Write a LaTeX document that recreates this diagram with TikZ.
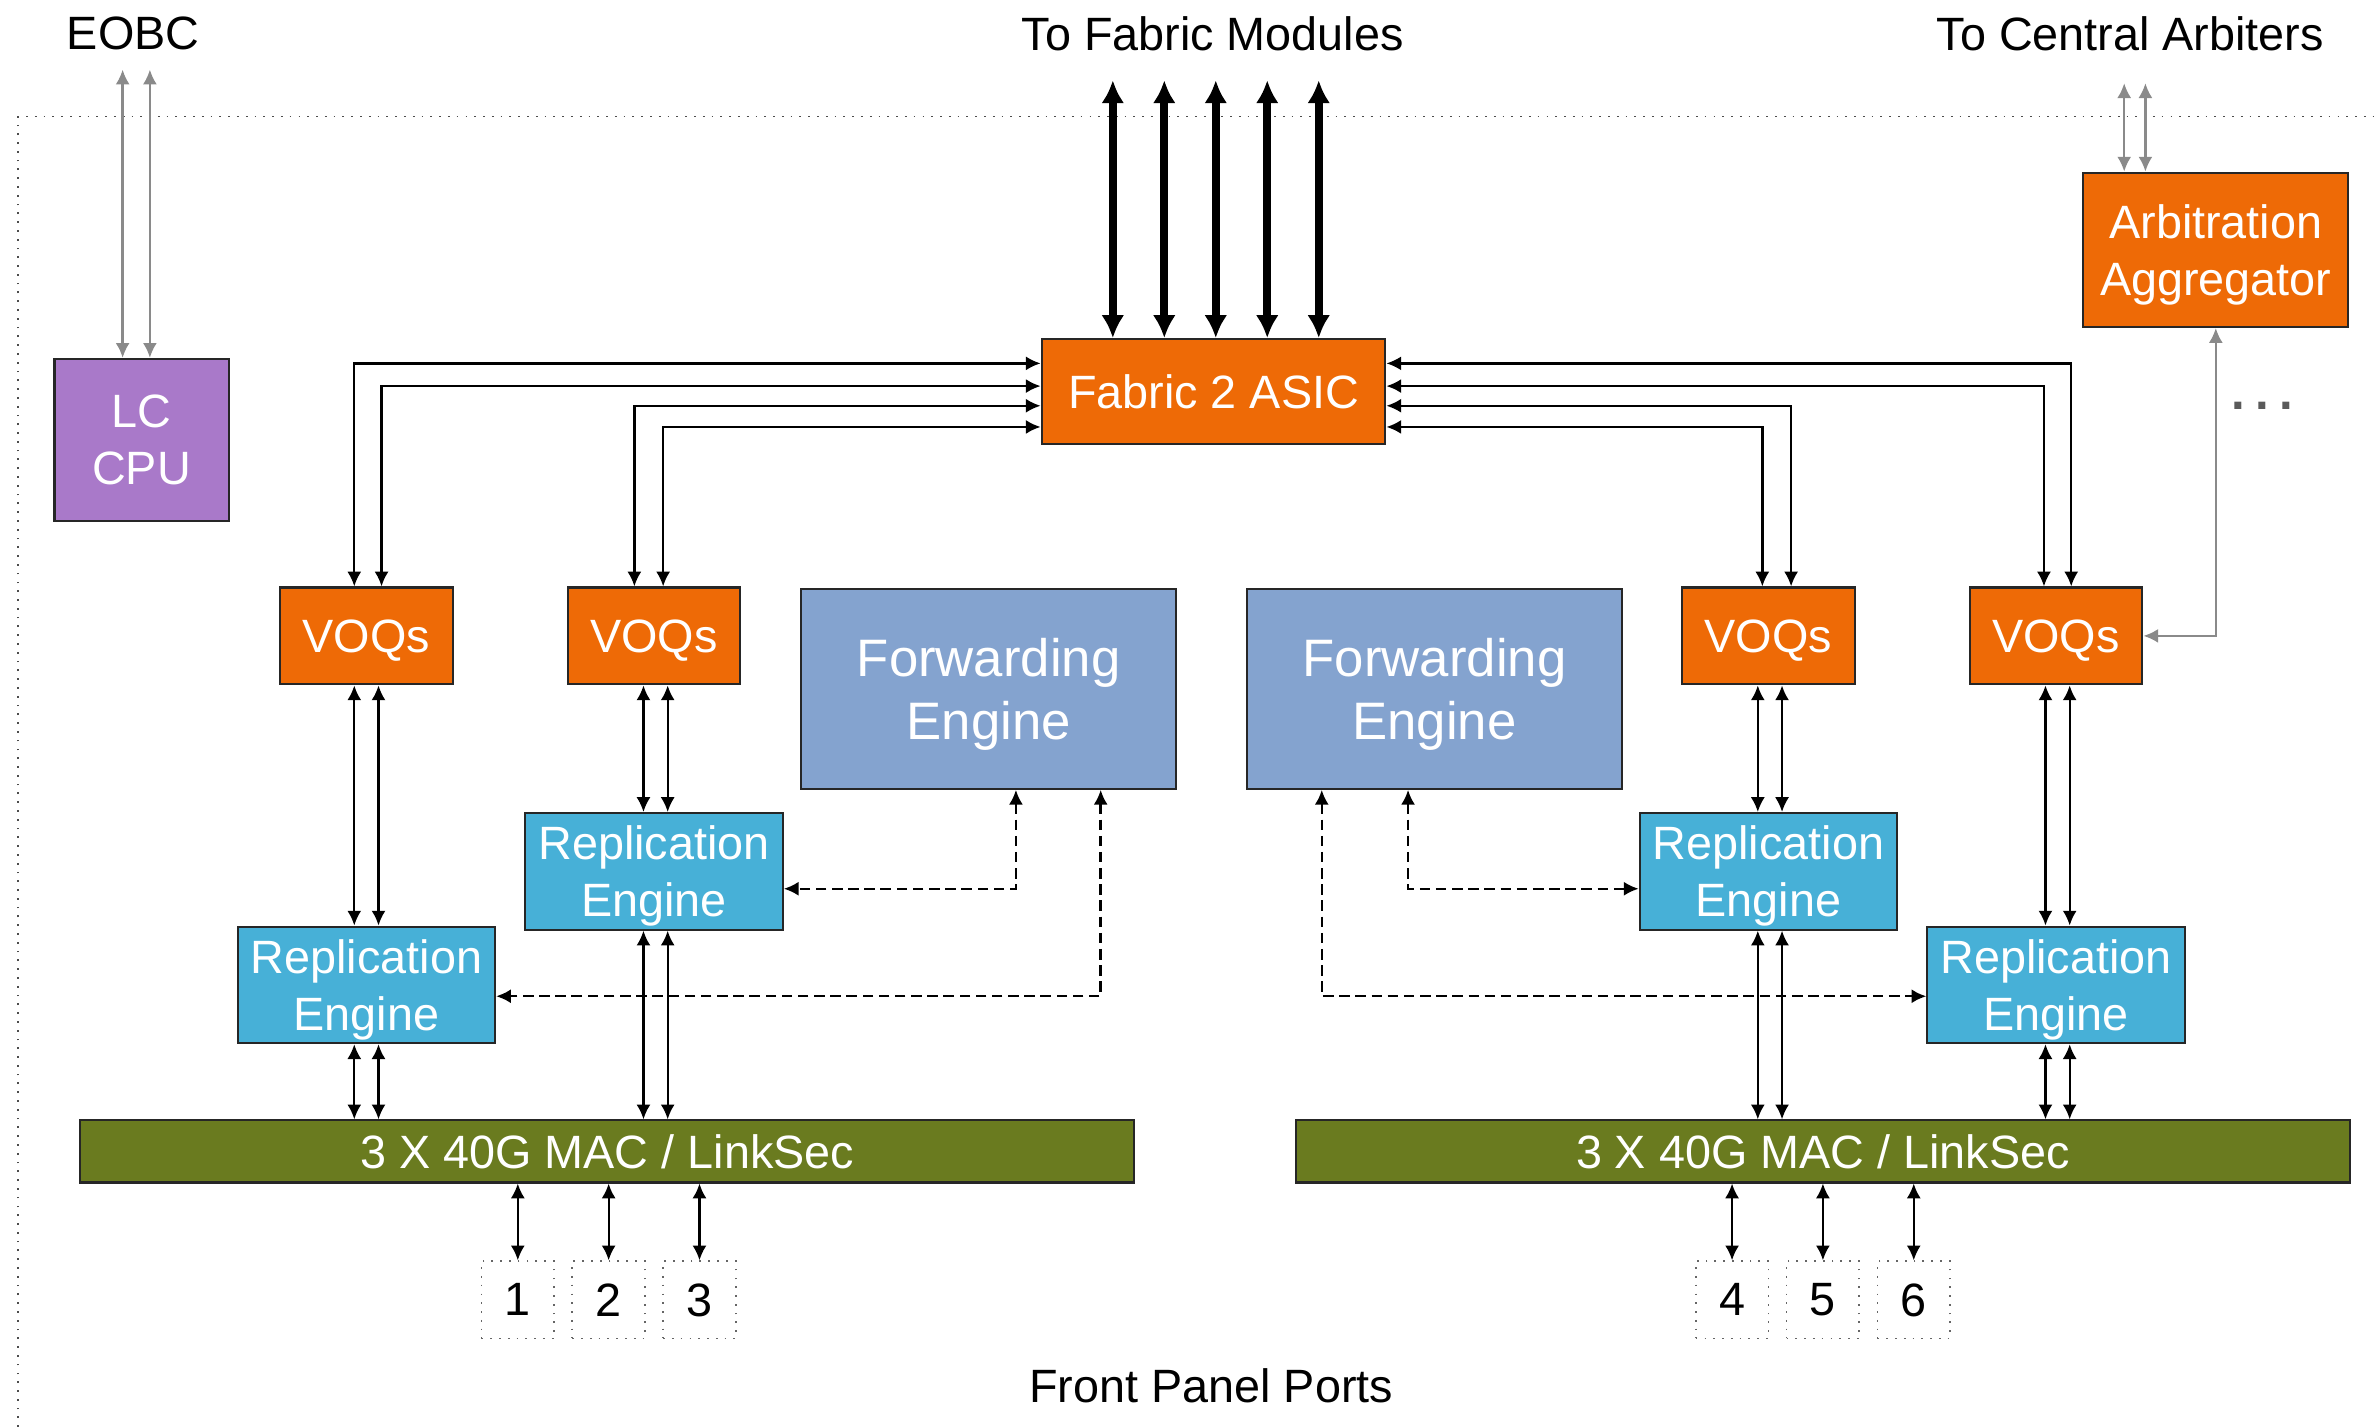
\documentclass[tikz,border=0pt]{standalone}
\usepackage{fontspec}
\setmainfont{Liberation Sans}
\usetikzlibrary{arrows.meta,calc}
\definecolor{orng}{HTML}{EE6A06}
\definecolor{purp}{HTML}{A979C9}
\definecolor{feblue}{HTML}{84A3CF}
\definecolor{reblue}{HTML}{47B0D7}
\definecolor{olivebar}{HTML}{6A7B1F}
\definecolor{grayln}{HTML}{8A8A8A}
\definecolor{dotgray}{HTML}{5A5A5A}
\def\U{0.01514cm}
\begin{document}
\begin{tikzpicture}[x=\U,y=-\U,
  box/.style={draw=black!85, line width=0.6pt, inner sep=0pt, align=center, text=white,
              text depth=0pt, font=\fontsize{13.3}{16.3}\selectfont},
  sz/.style 2 args={minimum width=#1*\U, minimum height=#2*\U},
  lab/.style={font=\fontsize{13.3}{16}\selectfont, text=black, inner sep=0pt},
  fefont/.style={font=\fontsize{15}{18.2}\selectfont},
  bi/.style={{Latex[length=4.2pt,width=4pt]}-{Latex[length=4.2pt,width=4pt]}, line width=0.65pt},
  gbi/.style={bi, draw=grayln},
  fab/.style={{Latex[length=6.5pt,width=6.5pt]}-{Latex[length=6.5pt,width=6.5pt]}, line width=2.2pt},
  dsh/.style={bi, dash pattern=on 3pt off 1.6pt, line width=0.7pt},
  port/.style={draw=black!60, dotted, line width=0.5pt, inner sep=0pt, sz={48}{51},
               text depth=0pt, font=\fontsize{13.3}{16}\selectfont}
]
\useasboundingbox (0,0) rectangle (1568,942.5);

% outer dotted frame
\draw[black!70, dotted, line width=0.5pt] (12,942.5) -- (12,77) -- (1568,77);

% labels
\node[lab] (eobc) at (88,22) {EOBC};
\node[lab] (tofab) at (801,22) {To Fabric Modules};
\node[lab] (tocen) at (1407,22) {To Central Arbiters};
\node[lab] (fpp) at (800,915) {Front Panel Ports};
\node[lab, text=dotgray, font=\fontsize{14}{16}\bfseries] (dots) at (1494,268) {.\hspace{2.9pt}.\hspace{2.9pt}.};

% boxes
\node[box, fill=purp, sz={115}{107}] (lccpu) at (93.5,290.5) {LC\\CPU};
\node[box, fill=orng, sz={227}{69}] (asic) at (801.5,258.5) {Fabric 2 ASIC};
\node[box, fill=orng, sz={175}{102}] (arb) at (1463.5,165) {Arbitration\\Aggregator};

\node[box, fill=orng, sz={114}{64}] (voq1) at (242,420) {VOQs};
\node[box, fill=orng, sz={114}{64}] (voq2) at (432,420) {VOQs};
\node[box, fill=orng, sz={114}{64}] (voq3) at (1168,420) {VOQs};
\node[box, fill=orng, sz={114}{64}] (voq4) at (1358,420) {VOQs};

\node[box, fefont, fill=feblue, sz={248}{132}] (fe1) at (653,455) {Forwarding\\Engine};
\node[box, fefont, fill=feblue, sz={248}{132}] (fe2) at (947.5,455) {Forwarding\\Engine};

\node[box, fill=reblue, sz={170}{77}] (re1) at (242,650.5) {Replication\\Engine};
\node[box, fill=reblue, sz={170}{77}] (re2) at (432,575.5) {Replication\\Engine};
\node[box, fill=reblue, sz={170}{77}] (re3) at (1168,575.5) {Replication\\Engine};
\node[box, fill=reblue, sz={170}{77}] (re4) at (1358,650.5) {Replication\\Engine};

\node[box, fill=olivebar, sz={696}{41}] (mac1) at (401,760.5) {3 X 40G MAC / LinkSec};
\node[box, fill=olivebar, sz={696}{41}] (mac2) at (1204,760.5) {3 X 40G MAC / LinkSec};

\node[port] (p1) at (342,858.5) {1};
\node[port] (p2) at (402,858.5) {2};
\node[port] (p3) at (462,858.5) {3};
\node[port] (p4) at (1144,858.5) {4};
\node[port] (p5) at (1204,858.5) {5};
\node[port] (p6) at (1264,858.5) {6};

% free ends
\coordinate (e1) at (81,46);
\coordinate (e2) at (99,46);
\coordinate (f1) at (735,53);
\coordinate (f2) at (769,53);
\coordinate (f3) at (803,53);
\coordinate (f4) at (837,53);
\coordinate (f5) at (871,53);
\coordinate (c1) at (1403,55);
\coordinate (c2) at (1417,55);

% EOBC
\draw[gbi] (e1) -- (e1 |- lccpu.north);
\draw[gbi] (e2) -- (e2 |- lccpu.north);
% fabric modules
\foreach \f in {f1,f2,f3,f4,f5} \draw[fab] (\f) -- (\f |- asic.north);
% central arbiters
\draw[gbi] (c1) -- (c1 |- arb.north);
\draw[gbi] (c2) -- (c2 |- arb.north);
% aggregator to VOQ
\draw[gbi] (arb.south) |- (voq4.east);

% ASIC to VOQs
\draw[bi] (asic.west |- 0,240) -| (voq1.north -| 234,0);
\draw[bi] (asic.west |- 0,255) -| (voq1.north -| 252,0);
\draw[bi] (asic.west |- 0,268) -| (voq2.north -| 419,0);
\draw[bi] (asic.west |- 0,282) -| (voq2.north -| 438,0);
\draw[bi] (asic.east |- 0,240) -| (voq4.north -| 1368,0);
\draw[bi] (asic.east |- 0,255) -| (voq4.north -| 1350,0);
\draw[bi] (asic.east |- 0,268) -| (voq3.north -| 1183,0);
\draw[bi] (asic.east |- 0,282) -| (voq3.north -| 1164,0);

% VOQ to RE
\draw[bi] (voq1.south -| 234,0) -- (re1.north -| 234,0);
\draw[bi] (voq1.south -| 250,0) -- (re1.north -| 250,0);
\draw[bi] (voq2.south -| 425,0) -- (re2.north -| 425,0);
\draw[bi] (voq2.south -| 441,0) -- (re2.north -| 441,0);
\draw[bi] (voq3.south -| 1161,0) -- (re3.north -| 1161,0);
\draw[bi] (voq3.south -| 1177,0) -- (re3.north -| 1177,0);
\draw[bi] (voq4.south -| 1351,0) -- (re4.north -| 1351,0);
\draw[bi] (voq4.south -| 1367,0) -- (re4.north -| 1367,0);

% RE to MAC
\draw[bi] (re1.south -| 234,0) -- (mac1.north -| 234,0);
\draw[bi] (re1.south -| 250,0) -- (mac1.north -| 250,0);
\draw[bi] (re2.south -| 425,0) -- (mac1.north -| 425,0);
\draw[bi] (re2.south -| 441,0) -- (mac1.north -| 441,0);
\draw[bi] (re3.south -| 1161,0) -- (mac2.north -| 1161,0);
\draw[bi] (re3.south -| 1177,0) -- (mac2.north -| 1177,0);
\draw[bi] (re4.south -| 1351,0) -- (mac2.north -| 1351,0);
\draw[bi] (re4.south -| 1367,0) -- (mac2.north -| 1367,0);

% forwarding engine to RE (dashed)
\draw[dsh] (fe1.south -| 671,0) |- (re2.east |- 0,587);
\draw[dsh] (fe1.south -| 727,0) |- (re1.east |- 0,658);
\draw[dsh] (fe2.south -| 930,0) |- (re3.west |- 0,587);
\draw[dsh] (fe2.south -| 873,0) |- (re4.west |- 0,658);

% MAC to ports
\foreach \p in {p1,p2,p3} \draw[bi] (mac1.south -| \p.north) -- (\p.north);
\foreach \p in {p4,p5,p6} \draw[bi] (mac2.south -| \p.north) -- (\p.north);
\end{tikzpicture}
\end{document}
